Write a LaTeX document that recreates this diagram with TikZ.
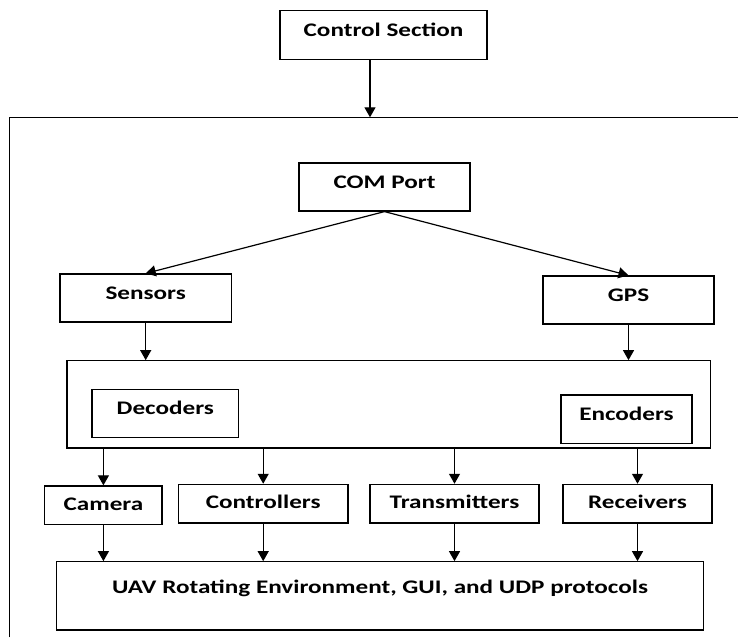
\documentclass[tikz,border=0pt]{standalone}
\usepackage{fontspec}
\setmainfont{Carlito}[FakeStretch=1.31]
\usetikzlibrary{arrows.meta, positioning}

\begin{document}
\begin{tikzpicture}[x=1pt, y=-1pt, line width=1.2pt,
	>={Triangle[length=10pt, width=11pt]},
	blk/.style={draw, inner sep=0pt, font=\bfseries\fontsize{19.2}{21}\selectfont,
		text height=13pt, text depth=11pt},
	unit/.style={blk, text depth=3pt, minimum height=38.7pt}]
	\useasboundingbox (0,0) rectangle (738,637);

	\node[blk, minimum width=207pt, minimum height=48.6pt] (ctrl) at (383.5,35) {Control Section};
	\coordinate (frame) at (9.4,117.3);
	\coordinate (top) at (370,117.3);
	\draw (frame) ++(0,520) -- (frame) -- ++(729,0);

	\node[blk, minimum width=171pt, minimum height=48pt] (com) at (384.5,187) {COM Port};
	\node[blk, minimum width=171.5pt, minimum height=48pt] (sens) at (145.7,298) {Sensors};
	\node[blk, minimum width=171pt, minimum height=48pt] (gps) at (628.5,300) {GPS};

	\node[draw, minimum width=643.6pt, minimum height=87.3pt] (mid) at (388.8,404.4) {};
	\node[blk, minimum width=146.6pt, minimum height=47.6pt] (dec) at (165.3,413.5) {Decoders};
	\node[blk, minimum width=131pt, minimum height=48.3pt] (enc) at (626.5,419.2) {Encoders};

	\node[unit, minimum width=117.3pt] (cam) at (103.4,505.3) {Camera};
	\node[unit, minimum width=169.6pt] (ctl) at (263.2,503.7) {Controllers};
	\node[unit, minimum width=169pt] (trn) at (454.5,503.7) {Transmitters};
	\node[unit, minimum width=149pt] (rcv) at (637.5,503.7) {Receivers};

	\node[blk, text depth=17pt, minimum width=647pt, minimum height=68.3pt] (uav) at (380,595.9)
		{UAV Rotating Environment, GUI, and UDP protocols};

	\path[->] (ctrl.south -| top) edge (top);
	\path[->] (com.south) edge (sens.north);
	\path[->] (com.south) edge (gps.north);
	\path[->] (sens.south) edge (sens.south |- mid.north);
	\path[->] (gps.south) edge (gps.south |- mid.north);
	\path[->] (mid.south -| cam.north) edge (cam.north);
	\path[->] (mid.south -| ctl.north) edge (ctl.north);
	\path[->] (mid.south -| trn.north) edge (trn.north);
	\path[->] (mid.south -| rcv.north) edge (rcv.north);
	\path[->] (cam.south) edge (cam.south |- uav.north);
	\path[->] (ctl.south) edge (ctl.south |- uav.north);
	\path[->] (trn.south) edge (trn.south |- uav.north);
	\path[->] (rcv.south) edge (rcv.south |- uav.north);
\end{tikzpicture}
\end{document}
